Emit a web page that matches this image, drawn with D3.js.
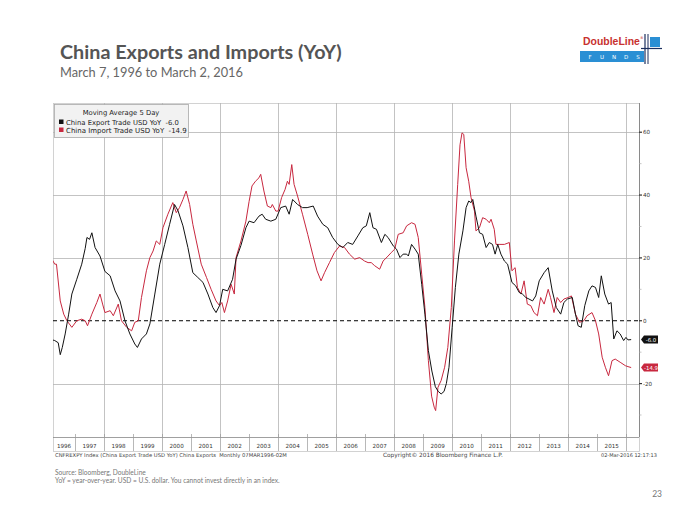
<!DOCTYPE html>
<html><head><meta charset="utf-8">
<script src="https://cdn.jsdelivr.net/npm/d3@7"></script>
<style>body{margin:0;background:#fff}svg{display:block}</style>
</head><body>
<svg id="c" width="700" height="525"></svg>
<script>
// ---- data (decimal year, YoY %) ----
const exportT = [1996.18,1996.3,1996.42,1996.49,1996.56,1996.66,1996.78,1996.89,1997.06,1997.23,1997.35,1997.41,1997.5,1997.58,1997.69,1997.86,1998.03,1998.21,1998.38,1998.55,1998.72,1998.89,1999.06,1999.15,1999.29,1999.46,1999.58,1999.75,1999.92,2000.09,2000.26,2000.43,2000.55,2000.72,2000.89,2001.06,2001.23,2001.41,2001.58,2001.75,2001.86,2001.98,2002.09,2002.26,2002.43,2002.55,2002.72,2002.89,2003.0,2003.17,2003.34,2003.45,2003.57,2003.75,2003.92,2004.09,2004.26,2004.38,2004.5,2004.67,2004.84,2005.0,2005.21,2005.36,2005.54,2005.71,2005.88,2006.06,2006.23,2006.4,2006.57,2006.75,2006.92,2007.04,2007.16,2007.27,2007.39,2007.56,2007.68,2007.79,2007.97,2008.08,2008.2,2008.31,2008.43,2008.49,2008.6,2008.72,2008.83,2008.95,2009.06,2009.18,2009.3,2009.42,2009.52,2009.62,2009.72,2009.8,2009.89,2010.0,2010.11,2010.23,2010.37,2010.48,2010.57,2010.65,2010.71,2010.82,2010.94,2011.05,2011.17,2011.28,2011.39,2011.48,2011.57,2011.68,2011.8,2011.91,2012.06,2012.19,2012.31,2012.42,2012.54,2012.65,2012.77,2012.88,2013.0,2013.17,2013.31,2013.45,2013.59,2013.74,2013.85,2013.97,2014.14,2014.25,2014.34,2014.45,2014.57,2014.71,2014.82,2014.94,2015.05,2015.14,2015.26,2015.39,2015.48,2015.57,2015.68,2015.79,2015.91,2015.99,2016.06,2016.17];
const exportV = [-6.0,-6.3,-7,-10.8,-8.5,-4.2,2.1,8.5,13.2,18,23,26.5,25.9,28,23.3,20.6,15.7,14.3,9.5,6.3,0,-4.2,-7.4,-8.5,-5.8,-4.2,-1,8.5,18,24.3,30.7,37,35,30.2,23.3,15.3,13.8,12.2,8.5,4.2,2.6,4.8,10,9.5,13.2,19.6,24,29.6,31.7,31.2,33.3,33.9,32.3,31.7,32.3,36,36.5,33.9,38.6,37,36,36,36.5,33.3,30.7,29.6,26.5,24.3,23.3,24.9,24.3,27,29.6,30.2,34.4,29.6,29.1,24.9,27.5,26.5,23.8,22.8,20.1,21.2,21.2,20.6,24.3,22.8,21.2,11.6,2.1,-9.5,-16,-21,-22.5,-23.3,-22.5,-20,-14.8,-2.1,10.6,21.2,28.6,36,38.1,37.6,38.6,33.3,28,27.5,23.3,24.9,24.3,21.2,24.3,21.2,19,18,12.2,11.1,9,8.5,7.4,6.9,6.3,7.9,12.7,15.3,16.9,9.5,4.2,2.1,5.8,6.9,7.4,2.1,-1.6,-2.1,4.8,9.5,11.1,10.6,7.4,14.3,8.5,5.3,5.8,-5.8,-3.2,-4.2,-6.3,-5.3,-6.1,-6.0];
const importT = [1996.18,1996.3,1996.36,1996.49,1996.61,1996.72,1996.89,1997.06,1997.23,1997.35,1997.43,1997.58,1997.75,1997.86,1997.95,1998.03,1998.21,1998.32,1998.49,1998.6,1998.78,1998.95,1999.06,1999.18,1999.29,1999.46,1999.58,1999.69,1999.8,1999.92,2000.03,2000.2,2000.37,2000.49,2000.6,2000.72,2000.83,2000.95,2001.06,2001.18,2001.35,2001.53,2001.69,2001.86,2001.98,2002.06,2002.15,2002.26,2002.38,2002.49,2002.55,2002.72,2002.89,2003.0,2003.1,2003.22,2003.34,2003.4,2003.51,2003.63,2003.75,2003.8,2003.92,2004.0,2004.12,2004.24,2004.32,2004.38,2004.47,2004.55,2004.67,2004.84,2005.02,2005.19,2005.34,2005.48,2005.6,2005.77,2005.94,2006.12,2006.29,2006.46,2006.64,2006.81,2006.98,2007.1,2007.21,2007.33,2007.5,2007.62,2007.79,2007.9,2008.02,2008.14,2008.31,2008.43,2008.6,2008.72,2008.83,2008.95,2009.06,2009.18,2009.29,2009.38,2009.43,2009.51,2009.62,2009.74,2009.85,2009.97,2010.08,2010.19,2010.27,2010.34,2010.4,2010.48,2010.57,2010.65,2010.77,2010.82,2010.94,2011.05,2011.17,2011.28,2011.34,2011.45,2011.51,2011.62,2011.8,2011.97,2012.06,2012.17,2012.25,2012.37,2012.48,2012.59,2012.71,2012.82,2012.94,2013.05,2013.17,2013.31,2013.39,2013.51,2013.62,2013.74,2013.85,2014.0,2014.11,2014.25,2014.39,2014.54,2014.65,2014.82,2014.94,2015.05,2015.17,2015.28,2015.39,2015.51,2015.62,2015.79,2015.97,2016.06,2016.17];
const importV = [20,18,18,6.3,2.1,0,-2.1,0,0.5,0,-1.6,2.1,5.8,8.5,5.3,2.6,3.2,1.6,5.3,0,-2.1,-3.2,-0.5,0,7.4,15.9,20.1,22.2,25.4,24.3,29.6,33.9,37.6,34.4,36,38.6,41.3,37,30.7,25.4,18,13.8,10,6.3,4.8,5.8,2.6,6.3,11.6,8.5,20.1,25.4,31.7,38,42.9,44.4,45.5,46.6,41.3,36.5,36,37,34.9,34.9,39.2,41.8,44.4,43.4,49.7,43.4,39.7,33.9,27.5,21.2,15.9,12.7,15.3,18.5,21.7,23.8,23.3,21.2,19.6,20.1,19,18.5,18.5,17.5,16.4,19,20.6,21.7,22.8,27.5,28,30.2,31.2,30.7,26.5,14.8,4.2,-12.7,-24,-27.5,-28.6,-21.2,-19,-14.8,-8.5,4.2,25.4,43.4,56,59.8,59.3,48.7,44.4,39.2,34.9,28.6,29.6,32.8,32.3,31.2,32.3,29.1,24.3,24.3,24.3,24.9,15.9,16.9,10.6,8.5,12.7,5.3,4.8,2.6,1.6,7.4,5.3,10,7.4,2.6,7.4,5.8,6.9,7.4,7.9,2.1,-0.5,0,1.6,2.6,0,-4.2,-11.6,-14.8,-17.5,-12.7,-12.2,-13.2,-14.3,-14.6,-14.9];
const yearLabels = [1996,1997,1998,1999,2000,2001,2002,2003,2004,2005,2006,2007,2008,2009,2010,2011,2012,2013,2014,2015];
const gridYears = [1998,2000,2002,2004,2006,2008,2010,2012,2014,2016];
const yTicks = [60,40,20,0,-20];
const yMinor = [50,30,10,-10,-30];
const lastExport = "-6.0", lastImport = "-14.9";
const exportName = "China Export Trade USD YoY", importName = "China Import Trade USD YoY";

const RED = "#c8283f", FONT = "'DejaVu Sans', sans-serif";
const svg = d3.select("#c");
const L = 53, R = 639, T = 103, B = 437, BAND = 451;
const x = d3.scaleLinear().domain([1996.24, 2016.44]).range([L, R]);
const y = d3.scaleLinear().domain([-37, 69.3]).range([B, T]);

function fit(t, w) {
  const l = t.node().getComputedTextLength();
  t.attr("font-size", parseFloat(t.attr("font-size")) * w / l);
  return t;
}

// title
fit(svg.append("text").attr("x", 60).attr("y", 59).attr("font-family", "Lato, 'Open Sans', sans-serif")
  .attr("font-weight", "bold").attr("font-size", 20).attr("fill", "#555").text("China Exports and Imports (YoY)"), 282);
fit(svg.append("text").attr("x", 60).attr("y", 77).attr("font-family", "Lato, 'Open Sans', sans-serif")
  .attr("font-size", 13).attr("fill", "#666").text("March 7, 1996 to March 2, 2016"), 183);

// logo
const lg = svg.append("g");
fit(lg.append("text").attr("x", 583).attr("y", 45).attr("font-family", "'Liberation Sans', Arial, sans-serif")
  .attr("font-weight", "bold").attr("font-size", 11).attr("fill", "#c8312f").text("DoubleLine"), 57);
lg.append("text").attr("x", 640).attr("y", 39).attr("font-size", 3.5).attr("fill", "#c8312f").attr("font-family", FONT).text("®");
lg.append("rect").attr("x", 580).attr("y", 51).attr("width", 64).attr("height", 11).attr("fill", "#2a8fd4");
["F","U","N","D","S"].forEach((c, i) => lg.append("text").attr("x", 590 + i * 12).attr("y", 59)
  .attr("font-size", 5.5).attr("font-family", FONT).attr("fill", "#fff").attr("text-anchor", "middle").text(c));
lg.append("rect").attr("x", 650).attr("y", 37).attr("width", 10).attr("height", 10).attr("fill", "#2a8fd4");
lg.append("line").attr("x1", 645).attr("x2", 645).attr("y1", 34).attr("y2", 64).attr("stroke", "#1c2f5e").attr("stroke-width", 1.2);
lg.append("line").attr("x1", 648).attr("x2", 648).attr("y1", 34).attr("y2", 64).attr("stroke", "#1c2f5e").attr("stroke-width", 1);
lg.append("line").attr("x1", 641).attr("x2", 662).attr("y1", 48.5).attr("y2", 48.5).attr("stroke", "#1c2f5e").attr("stroke-width", 1.2);

// plot frame
svg.append("rect").attr("x", L + 0.5).attr("y", T + 0.5).attr("width", R - L).attr("height", BAND - T)
  .attr("fill", "none").attr("stroke", "#c8c8c8").attr("stroke-width", 0.8);

// grid
svg.append("g").selectAll("line").data(yTicks.filter(d => d !== 0)).join("line")
  .attr("x1", L).attr("x2", R).attr("y1", d => Math.round(y(d)) + 0.5).attr("y2", d => Math.round(y(d)) + 0.5)
  .attr("stroke", "#b4b4b4").attr("stroke-width", 0.8);
svg.append("g").selectAll("line").data(gridYears).join("line")
  .attr("x1", d => Math.round(x(d)) + 0.5).attr("x2", d => Math.round(x(d)) + 0.5).attr("y1", T).attr("y2", B)
  .attr("stroke", "#b4b4b4").attr("stroke-width", 0.8);

// bottom year band
svg.append("line").attr("x1", L).attr("x2", R).attr("y1", B + 0.5).attr("y2", B + 0.5).attr("stroke", "#888").attr("stroke-width", 0.8);
const sepYears = d3.range(1997, 2017);
svg.append("g").selectAll("line").data(sepYears).join("line")
  .attr("x1", d => Math.round(x(d)) + 0.5).attr("x2", d => Math.round(x(d)) + 0.5).attr("y1", B - 3).attr("y2", BAND)
  .attr("stroke", "#999").attr("stroke-width", 0.7);
svg.append("g").selectAll("text").data(yearLabels).join("text")
  .attr("x", d => (Math.max(L, x(d)) + x(d + 1)) / 2).attr("y", 448).attr("text-anchor", "middle")
  .attr("font-family", FONT).attr("font-size", 5.6).attr("fill", "#333").text(d => d);

// zero line
svg.append("line").attr("x1", L).attr("x2", R).attr("y1", y(0)).attr("y2", y(0))
  .attr("stroke", "#000").attr("stroke-width", 1).attr("stroke-dasharray", "4,3");

// lines
svg.append("clipPath").attr("id", "clip").append("rect").attr("x", L).attr("y", T).attr("width", R - L).attr("height", B - T);
const line = d3.line().x(d => x(d[0])).y(d => y(d[1]));
const imp = importT.map((t, i) => [t, importV[i]]);
const exp = exportT.map((t, i) => [t, exportV[i]]);
svg.append("path").datum(imp).attr("d", line).attr("fill", "none").attr("stroke", RED).attr("stroke-width", 1).attr("clip-path", "url(#clip)");
svg.append("path").datum(exp).attr("d", line).attr("fill", "none").attr("stroke", "#111").attr("stroke-width", 1).attr("clip-path", "url(#clip)");

// right axis
svg.append("line").attr("x1", R + 0.5).attr("x2", R + 0.5).attr("y1", T).attr("y2", B).attr("stroke", "#777").attr("stroke-width", 0.8);
svg.append("g").selectAll("line").data(yTicks).join("line")
  .attr("x1", R).attr("x2", R + 3).attr("y1", d => y(d)).attr("y2", d => y(d)).attr("stroke", "#333").attr("stroke-width", 1.2);
svg.append("g").selectAll("line").data(yMinor).join("line")
  .attr("x1", R).attr("x2", R + 2.5).attr("y1", d => y(d)).attr("y2", d => y(d)).attr("stroke", "#aaa").attr("stroke-width", 0.7);
svg.append("g").selectAll("text").data(yTicks).join("text")
  .attr("x", R + 4).attr("y", d => y(d) + 2).attr("font-family", FONT).attr("font-size", 5.6).attr("fill", "#333").text(d => d);

// end-value tags
function tag(val, label, color) {
  const yy = y(+val);
  svg.append("path").attr("d", `M${R + 2},${yy} L${R + 5},${yy - 4} L${R + 19},${yy - 4} L${R + 19},${yy + 4} L${R + 5},${yy + 4} Z`).attr("fill", color);
  svg.append("text").attr("x", R + 12).attr("y", yy + 2).attr("text-anchor", "middle").attr("font-family", FONT)
    .attr("font-size", 5.4).attr("fill", "#fff").text(label);
}
tag(lastExport, lastExport, "#111");
tag(lastImport, lastImport, RED);

// legend
const lgd = svg.append("g");
lgd.append("rect").attr("x", 54.5).attr("y", 104.5).attr("width", 134).attr("height", 33).attr("fill", "#f2f2f2").attr("stroke", "#a8a8a8").attr("stroke-width", 0.8);
lgd.append("text").attr("x", 121).attr("y", 115).attr("text-anchor", "middle").attr("font-family", FONT).attr("font-size", 6.8).attr("fill", "#222").text("Moving Average 5 Day");
lgd.append("rect").attr("x", 59).attr("y", 119.5).attr("width", 4.5).attr("height", 4.5).attr("fill", "#111");
lgd.append("rect").attr("x", 59).attr("y", 127.5).attr("width", 4.5).attr("height", 4.5).attr("fill", RED);
fit(lgd.append("text").attr("x", 66).attr("y", 124.5).attr("font-family", FONT).attr("font-size", 6.8).attr("fill", "#222")
  .attr("xml:space", "preserve").text(exportName + "  " + lastExport), 113);
fit(lgd.append("text").attr("x", 66).attr("y", 132.5).attr("font-family", FONT).attr("font-size", 6.8).attr("fill", "#222")
  .attr("xml:space", "preserve").text(importName + "  " + lastImport), 121);

// bloomberg footer
fit(svg.append("text").attr("x", 55).attr("y", 457).attr("font-family", FONT).attr("font-size", 5).attr("fill", "#444")
  .attr("xml:space", "preserve").text("CNFREXPY Index (China Export Trade USD YoY) China Exports  Monthly 07MAR1996-02M"), 232);
fit(svg.append("text").attr("x", 383).attr("y", 457).attr("font-family", FONT).attr("font-size", 5).attr("fill", "#444")
  .text("Copyright© 2016 Bloomberg Finance L.P."), 120);
fit(svg.append("text").attr("x", 601).attr("y", 457).attr("font-family", FONT).attr("font-size", 5).attr("fill", "#444")
  .text("02-Mar-2016 12:17:13"), 56);

// source
fit(svg.append("text").attr("x", 55).attr("y", 475).attr("font-family", "Lato, 'Open Sans', sans-serif").attr("font-size", 7).attr("fill", "#777")
  .text("Source: Bloomberg, DoubleLine"), 91);
fit(svg.append("text").attr("x", 55).attr("y", 483).attr("font-family", "Lato, 'Open Sans', sans-serif").attr("font-size", 7).attr("fill", "#777")
  .text("YoY = year-over-year. USD = U.S. dollar. You cannot invest directly in an index."), 225);
svg.append("text").attr("x", 662).attr("y", 497).attr("text-anchor", "end").attr("font-family", "Lato, 'Open Sans', sans-serif")
  .attr("font-size", 8.5).attr("fill", "#777").text("23");
</script>
</body></html>
